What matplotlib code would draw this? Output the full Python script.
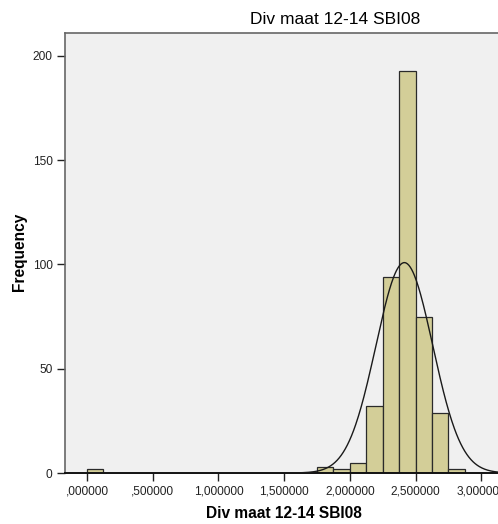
import numpy as np
import matplotlib
matplotlib.use("Agg")
import matplotlib.pyplot as plt

# histogram of "Div maat 12-14 SBI08" (SPSS style), bins of 0.125
bin_edges_left = [0.0, 1.75, 1.875, 2.0, 2.125, 2.25, 2.375, 2.5, 2.625, 2.75]
counts = [2, 3, 2, 5, 32, 94, 193, 75, 29, 2]
bin_width = 0.125

# normal curve parameters
mean = 2.415
std_dev = 0.216
n_total = sum(counts)

x_ticks = [0.0, 0.5, 1.0, 1.5, 2.0, 2.5, 3.0]
x_tick_labels = [",000000", ",500000", "1,000000", "1,500000", "2,000000", "2,500000", "3,000000"]
y_ticks = [0, 50, 100, 150, 200]

plt.rcParams["font.family"] = ["Liberation Sans", "DejaVu Sans"]

fig = plt.figure(figsize=(4.98, 5.24), dpi=100)
fig.patch.set_facecolor("white")
# axes is wider than the picture: right side is cut off like in the original export
ax = fig.add_axes([65 / 498, 51 / 524, 540 / 498, 440 / 524])
ax.set_facecolor("#f0f0f0")

ax.bar(bin_edges_left, counts, width=bin_width, align="edge",
       color="#d3ce98", edgecolor="#2a2a2a", linewidth=0.9, zorder=2)

xs = np.linspace(-0.2, 4.0, 800)
ys = n_total * bin_width / (std_dev * np.sqrt(2 * np.pi)) * np.exp(-0.5 * ((xs - mean) / std_dev) ** 2)
ax.plot(xs, ys, color="#1a1a1a", linewidth=1.0, zorder=3)

ax.set_xlim(-0.1674, 3.942)
ax.set_ylim(0, 211)
ax.set_xticks(x_ticks)
ax.set_xticklabels(x_tick_labels)
ax.set_yticks(y_ticks)
ax.tick_params(axis="both", direction="out", length=6, width=1.0, labelsize=8.6,
               colors="#222222", pad=3)

for side in ["left", "top", "right"]:
    ax.spines[side].set_color("#666666")
    ax.spines[side].set_linewidth(1.2)
ax.spines["bottom"].set_color("#111111")
ax.spines["bottom"].set_linewidth(1.4)

fig.text(19 / 498, 1 - 252 / 524, "Frequency", ha="center", va="center",
         rotation=90, fontsize=11.2, fontweight="bold")
fig.text(284 / 498, 1 - 513 / 524, "Div maat 12-14 SBI08", ha="center", va="center",
         fontsize=11.2, fontweight="bold")
fig.text(335 / 498, 1 - 20 / 524, "Div maat 12-14 SBI08", ha="center", va="center",
         fontsize=12.5)

fig.savefig("out.png", dpi=100)
